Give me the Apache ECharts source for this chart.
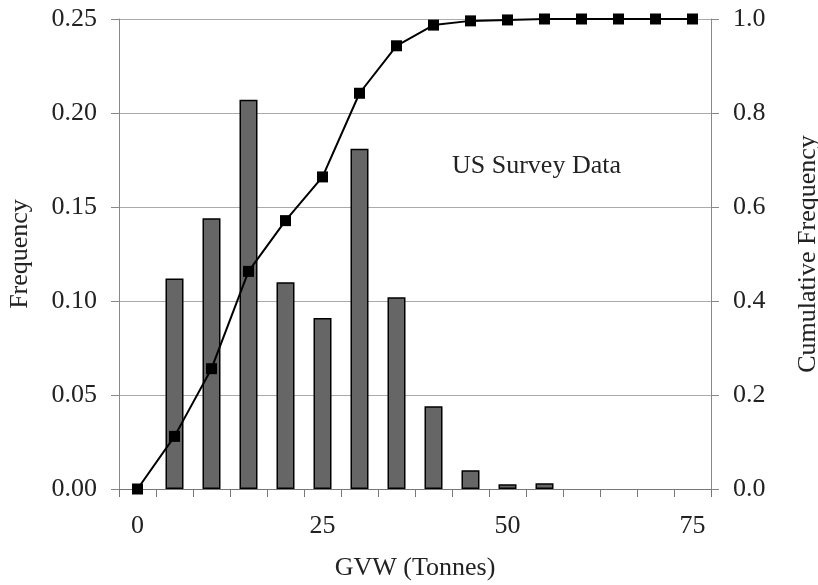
<!DOCTYPE html>
<html>
<head>
<meta charset="utf-8">
<script src="https://cdn.jsdelivr.net/npm/echarts@6/dist/echarts.min.js"></script>
<style>html,body{margin:0;padding:0;background:#fff}#c{width:818px;height:585px}</style>
</head>
<body>
<div id="c"></div>
<script>
const categories = ['0','5','10','15','20','25','30','35','40','45','50','55','60','65','70','75'];
const frequency = [null, 0.112, 0.144, 0.207, 0.110, 0.091, 0.181, 0.102, 0.044, 0.010, 0.0025, 0.003, null, null, null, null];
const cumulative = [0, 0.112, 0.256, 0.463, 0.571, 0.664, 0.842, 0.943, 0.987, 0.996, 0.998, 1.0, 1.0, 1.0, 1.0, 1.0];
const annotation = 'US Survey Data';

const FONT = 'Liberation Serif';
const FS = 26;
const chart = echarts.init(document.getElementById('c'));
chart.setOption({
  animation: false,
  backgroundColor: '#fff',
  textStyle: { fontFamily: FONT },
  title: {
    text: annotation, left: 447, top: 148,
    textStyle: { fontFamily: FONT, fontSize: FS, fontWeight: 'normal', color: '#222' }
  },
  grid: { left: 119, right: 107, top: 19, bottom: 96, outerBoundsMode: 'none', containLabel: false },
  xAxis: {
    type: 'category', data: categories, boundaryGap: true,
    name: 'GVW (Tonnes)', nameLocation: 'middle', nameGap: 66,
    nameTextStyle: { fontFamily: FONT, fontSize: FS, color: '#222' },
    axisLine: { lineStyle: { color: '#777', width: 1 } },
    axisTick: { show: true, interval: 0, alignWithLabel: false, length: 8, lineStyle: { color: '#777' } },
    axisLabel: { interval: 4, margin: 24, fontFamily: FONT, fontSize: FS, color: '#222' },
    splitLine: { show: false }
  },
  yAxis: [
    {
      type: 'value', min: 0, max: 0.25, interval: 0.05, position: 'left',
      name: 'Frequency', nameLocation: 'middle', nameGap: 86, nameRotate: 90,
      nameTextStyle: { fontFamily: FONT, fontSize: FS, color: '#222' },
      axisLine: { show: true, lineStyle: { color: '#888' } },
      axisTick: { show: true, length: 8, lineStyle: { color: '#888' } },
      axisLabel: { margin: 22, fontFamily: FONT, fontSize: FS, color: '#222', formatter: v => v.toFixed(2) },
      splitLine: { show: true, lineStyle: { color: '#aaa', width: 1 } }
    },
    {
      type: 'value', min: 0, max: 1.0, interval: 0.2, position: 'right',
      name: 'Cumulative Frequency', nameLocation: 'middle', nameGap: 84, nameRotate: 90,
      nameTextStyle: { fontFamily: FONT, fontSize: FS, color: '#222' },
      axisLine: { show: true, lineStyle: { color: '#888' } },
      axisTick: { show: true, length: 8, lineStyle: { color: '#888' } },
      axisLabel: { margin: 22, fontFamily: FONT, fontSize: FS, color: '#222', formatter: v => v.toFixed(1) },
      splitLine: { show: false }
    }
  ],
  series: [
    {
      type: 'bar', data: frequency, yAxisIndex: 0, barWidth: 18,
      itemStyle: { color: '#666666', borderColor: '#000', borderWidth: 1.5 }
    },
    {
      type: 'line', data: cumulative, yAxisIndex: 1,
      symbol: 'rect', symbolSize: 11,
      lineStyle: { color: '#000', width: 2 },
      itemStyle: { color: '#000' }, z: 5
    }
  ]
});
</script>
</body>
</html>
